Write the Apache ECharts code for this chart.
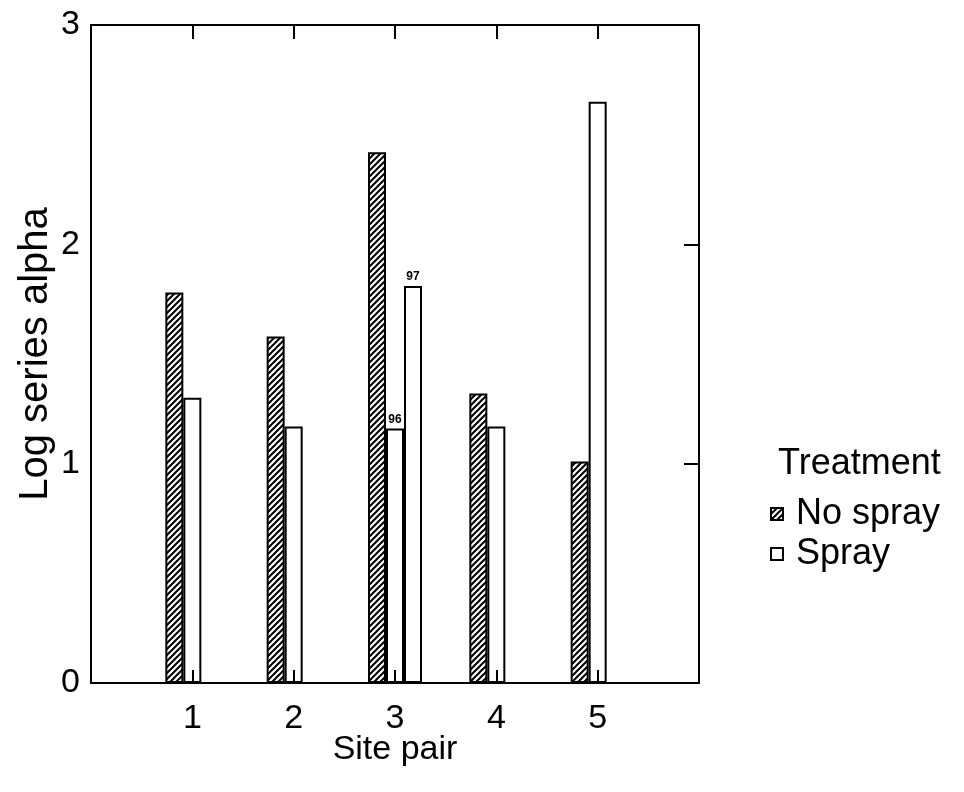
<!DOCTYPE html>
<html>
<head>
<meta charset="utf-8">
<script src="https://cdn.jsdelivr.net/npm/echarts@6/dist/echarts.min.js"></script>
<style>
html,body{margin:0;padding:0;background:#fff;}
#chart{width:964px;height:792px;}
</style>
</head>
<body>
<div id="chart"></div>
<script>
// Data
const sitePairs = ['1', '2', '3', '4', '5'];
const noSpray = [1.78, 1.58, 2.42, 1.32, 1.01];
const spray = [1.30, 1.17, 1.16, 1.17, 2.65];
const spray97 = [null, null, 1.81, null, null];
const sprayLabels = [null, null, '96', null, null];
const spray97Labels = [null, null, '97', null, null];
const yTicks = [0, 1, 2, 3];

const FONT = '"Liberation Sans", Arial, Helvetica, sans-serif';
const cats = [''].concat(sitePairs, ['']);
function pad(arr) { return [null].concat(arr, [null]); }
function withLabels(vals, labels) {
  return pad(vals.map(function (v, i) {
    if (v == null) return null;
    if (labels[i]) {
      return { value: v, label: { show: true, formatter: labels[i] } };
    }
    return v;
  }));
}

// "/" hatch pattern tile
function makeHatch() {
  const s = 6;
  const c = document.createElement('canvas');
  c.width = s; c.height = s;
  const g = c.getContext('2d');
  g.fillStyle = '#fff'; g.fillRect(0, 0, s, s);
  g.strokeStyle = '#000'; g.lineWidth = 2;
  g.beginPath();
  g.moveTo(-1, s + 1); g.lineTo(s + 1, -1);
  g.moveTo(-1, 1); g.lineTo(1, -1);
  g.moveTo(s - 1, s + 1); g.lineTo(s + 1, s - 1);
  g.stroke();
  return c;
}
const hatchFill = { image: makeHatch(), repeat: 'repeat' };
const barStyle = { color: '#fff', borderColor: '#000', borderWidth: 2 };
const smallLabel = { position: 'top', distance: 3, fontSize: 12, fontFamily: FONT, color: '#000', fontWeight: 'bold' };
const tickInterval = function (i) { return i > 0 && i < cats.length - 1; };

const chart = echarts.init(document.getElementById('chart'));
chart.setOption({
  backgroundColor: '#fff',
  animation: false,
  textStyle: { fontFamily: FONT, color: '#000' },
  grid: { left: 91, right: 265, top: 25, bottom: 109 },
  xAxis: [{
    type: 'category', data: cats, boundaryGap: false, position: 'bottom', z: 10,
    name: 'Site pair', nameLocation: 'middle', nameGap: 50, nameMoveOverlap: false,
    nameTextStyle: { fontSize: 34, fontFamily: FONT, color: '#000' },
    axisLine: { show: true, onZero: false, lineStyle: { color: '#000', width: 2 } },
    axisTick: { show: true, inside: true, length: 13, lineStyle: { color: '#000', width: 2 }, interval: tickInterval },
    axisLabel: { fontSize: 34, fontFamily: FONT, color: '#000', margin: 19, interval: 0 },
    splitLine: { show: false }
  }, {
    type: 'category', data: cats, boundaryGap: false, position: 'top', z: 10,
    axisLine: { show: true, onZero: false, lineStyle: { color: '#000', width: 2 } },
    axisTick: { show: true, inside: true, length: 14, lineStyle: { color: '#000', width: 2 }, interval: tickInterval },
    axisLabel: { show: false }, splitLine: { show: false }
  }],
  yAxis: [{
    type: 'value', min: yTicks[0], max: yTicks[yTicks.length - 1], interval: 1, position: 'left',
    name: 'Log series alpha', nameLocation: 'middle', nameGap: 35, nameRotate: 90, nameMoveOverlap: false,
    nameTextStyle: { fontSize: 40, fontFamily: FONT, color: '#000' },
    axisLine: { show: true, onZero: false, lineStyle: { color: '#000', width: 2 } },
    axisTick: { show: false },
    axisLabel: { fontSize: 34, fontFamily: FONT, color: '#000', margin: 11 },
    splitLine: { show: false }
  }, {
    type: 'value', min: yTicks[0], max: yTicks[yTicks.length - 1], interval: 1, position: 'right',
    axisLine: { show: true, onZero: false, lineStyle: { color: '#000', width: 2 } },
    axisTick: { show: true, inside: true, length: 15, lineStyle: { color: '#000', width: 2 } },
    axisLabel: { show: false }, splitLine: { show: false }
  }],
  legend: {
    data: ['No spray', 'Spray'], orient: 'vertical', left: 765, top: 491,
    itemWidth: 12, itemHeight: 12, itemGap: 4, icon: 'rect',
    textStyle: { fontSize: 36, fontFamily: FONT, color: '#000', lineHeight: 36, padding: [0, 0, 0, 8] },
    selectedMode: false
  },
  graphic: [{
    type: 'text', left: 778, top: 446,
    style: { text: 'Treatment', fontSize: 36, fontFamily: FONT, fill: '#000' }
  }],
  series: [{
    name: 'No spray', type: 'bar', barWidth: 18, barGap: '0%',
    itemStyle: Object.assign({}, barStyle, { color: hatchFill }),
    data: pad(noSpray)
  }, {
    name: 'Spray', type: 'bar', barWidth: 18, barGap: '0%',
    itemStyle: barStyle, label: smallLabel,
    data: withLabels(spray, sprayLabels)
  }, {
    name: 'Spray 97', type: 'bar', barWidth: 18, barGap: '0%',
    itemStyle: barStyle, label: smallLabel,
    data: withLabels(spray97, spray97Labels)
  }]
});
</script>
</body>
</html>
